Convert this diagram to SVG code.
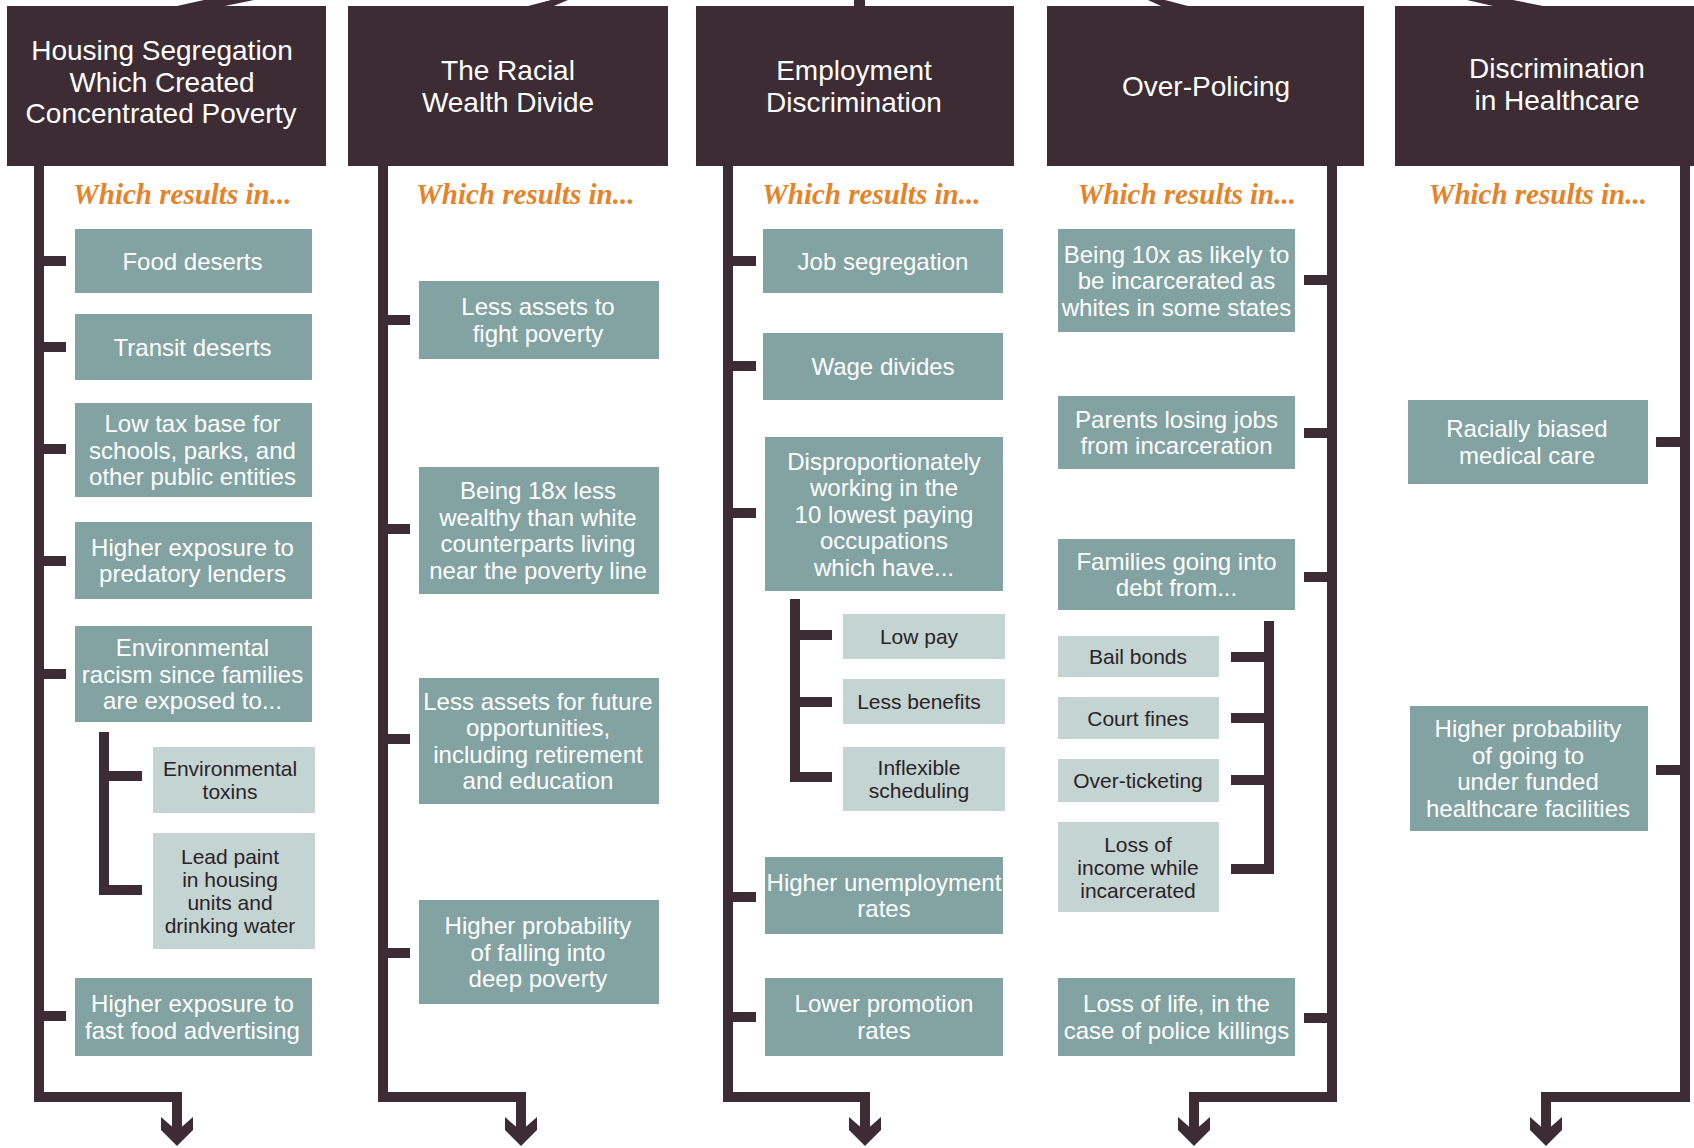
<svg xmlns="http://www.w3.org/2000/svg" xmlns:xlink="http://www.w3.org/1999/xlink" width="1694" height="1148" viewBox="0 0 1694 1148">
<style>
.hdr{fill:#3D2C33}
.box{fill:#82A3A2}
.sub{fill:#C3D4D3}
.ht{font-family:"Liberation Sans",Arial,sans-serif;font-size:28px;fill:#FFFFFF;text-anchor:middle}
.bt{font-family:"Liberation Sans",Arial,sans-serif;font-size:24px;fill:#FFFFFF;text-anchor:middle}
.st{font-family:"Liberation Sans",Arial,sans-serif;font-size:21px;fill:#2B2326;text-anchor:middle}
.wr{font-family:"Liberation Serif","Times New Roman",serif;font-size:29px;font-weight:bold;font-style:italic;fill:#E5832A}
.ln{fill:none;stroke:#3D2C33;stroke-width:10;stroke-linejoin:miter;stroke-linecap:butt}
.ah{fill:#3D2C33}
</style>
<defs>
<path id="arrow" d="M-16,-29 L0,-15 L16,-29 L16,-16 L0,0 L-16,-16 Z"/>
</defs>
<rect width="1694" height="1148" fill="#FFFFFF"/>

<g id="connectors">
  <polygon class="ah" points="177,6 225,6 254,0 204,0"/>
  <polygon class="ah" points="528,6 554,6 568,0 551,0"/>
  <rect class="ah" x="854" y="0" width="11" height="6"/>
  <polygon class="ah" points="1148,0 1165,0 1188,6 1161,6"/>
  <polygon class="ah" points="1467,0 1513,0 1543,6 1493,6"/>

  <path class="ln" d="M39 166 V1097 H177 V1132"/>
  <path class="ln" d="M39 261 H66 M39 347 H66 M39 449 H66 M39 561 H66 M39 674 H66 M39 1016 H66"/>
  <path class="ln" d="M104 732 V890 H142 M104 776 H142"/>
  <use href="#arrow" class="ah" x="177" y="1146"/>

  <path class="ln" d="M383 166 V1097 H521 V1132"/>
  <path class="ln" d="M383 320 H410 M383 529 H410 M383 739 H410 M383 953 H410"/>
  <use href="#arrow" class="ah" x="521" y="1146"/>

  <path class="ln" d="M728 166 V1097 H865 V1132"/>
  <path class="ln" d="M728 261 H756 M728 366 H756 M728 513 H756 M728 897 H756 M728 1017 H756"/>
  <path class="ln" d="M795 599 V777 H832 M795 635 H832 M795 702 H832"/>
  <use href="#arrow" class="ah" x="865" y="1146"/>

  <path class="ln" d="M1332 166 V1097 H1194 V1132"/>
  <path class="ln" d="M1332 280 H1304 M1332 433 H1304 M1332 577 H1304 M1332 1018 H1304"/>
  <path class="ln" d="M1269 621 V869 H1231 M1269 657 H1231 M1269 718 H1231 M1269 780 H1231"/>
  <use href="#arrow" class="ah" x="1194" y="1146"/>

  <path class="ln" d="M1685 166 V1097 H1546 V1132"/>
  <path class="ln" d="M1685 442 H1656 M1685 770 H1656"/>
  <use href="#arrow" class="ah" x="1546" y="1146"/>
</g>

<!-- Column 1 -->
<g id="h1">
  <rect class="hdr" x="7" y="6" width="319" height="160"/>
  <text class="ht" x="162" y="60">Housing Segregation</text>
  <text class="ht" x="162" y="92">Which Created</text>
  <text class="ht" x="161" y="123">Concentrated Poverty</text>
</g>
<g id="wr1"><text class="wr" x="73" y="204">Which results in...</text></g>
<g id="c1n1"><rect class="box" x="75" y="229" width="237" height="64"/>
  <text class="bt" x="192.5" y="269.6">Food deserts</text></g>
<g id="c1n2"><rect class="box" x="75" y="314" width="237" height="66"/>
  <text class="bt" x="192.5" y="355.6">Transit deserts</text></g>
<g id="c1n3"><rect class="box" x="75" y="403" width="237" height="94"/>
  <text class="bt" x="192.5" y="432.1">Low tax base for</text>
  <text class="bt" x="192.5" y="458.6">schools, parks, and</text>
  <text class="bt" x="192.5" y="485.1">other public entities</text></g>
<g id="c1n4"><rect class="box" x="75" y="522" width="237" height="77"/>
  <text class="bt" x="192.5" y="555.9">Higher exposure to</text>
  <text class="bt" x="192.5" y="582.4">predatory lenders</text></g>
<g id="c1n5"><rect class="box" x="75" y="626" width="237" height="96"/>
  <text class="bt" x="192.5" y="656.1">Environmental</text>
  <text class="bt" x="192.5" y="682.6">racism since families</text>
  <text class="bt" x="192.5" y="709.1">are exposed to...</text></g>
<g id="c1s1"><rect class="sub" x="153" y="747" width="162" height="66"/>
  <text class="st" x="230" y="776">Environmental</text>
  <text class="st" x="230" y="799">toxins</text></g>
<g id="c1s2"><rect class="sub" x="153" y="833" width="162" height="116"/>
  <text class="st" x="230" y="864">Lead paint</text>
  <text class="st" x="230" y="887">in housing</text>
  <text class="st" x="230" y="910">units and</text>
  <text class="st" x="230" y="933">drinking water</text></g>
<g id="c1n6"><rect class="box" x="75" y="978" width="237" height="78"/>
  <text class="bt" x="192.5" y="1012.4">Higher exposure to</text>
  <text class="bt" x="192.5" y="1038.9">fast food advertising</text></g>

<!-- Column 2 -->
<g id="h2">
  <rect class="hdr" x="348" y="6" width="320" height="160"/>
  <text class="ht" x="508" y="80">The Racial</text>
  <text class="ht" x="508" y="112">Wealth Divide</text>
</g>
<g id="wr2"><text class="wr" x="416" y="204">Which results in...</text></g>
<g id="c2n1"><rect class="box" x="419" y="281" width="240" height="78"/>
  <text class="bt" x="538" y="315.4">Less assets to</text>
  <text class="bt" x="538" y="341.9">fight poverty</text></g>
<g id="c2n2"><rect class="box" x="419" y="467" width="240" height="127"/>
  <text class="bt" x="538" y="499.4">Being 18x less</text>
  <text class="bt" x="538" y="525.9">wealthy than white</text>
  <text class="bt" x="538" y="552.4">counterparts living</text>
  <text class="bt" x="538" y="578.9">near the poverty line</text></g>
<g id="c2n3"><rect class="box" x="419" y="678" width="240" height="126"/>
  <text class="bt" x="538" y="709.9">Less assets for future</text>
  <text class="bt" x="538" y="736.4">opportunities,</text>
  <text class="bt" x="538" y="762.9">including retirement</text>
  <text class="bt" x="538" y="789.4">and education</text></g>
<g id="c2n4"><rect class="box" x="419" y="900" width="240" height="104"/>
  <text class="bt" x="538" y="934.1">Higher probability</text>
  <text class="bt" x="538" y="960.6">of falling into</text>
  <text class="bt" x="538" y="987.1">deep poverty</text></g>

<!-- Column 3 -->
<g id="h3">
  <rect class="hdr" x="696" y="6" width="318" height="160"/>
  <text class="ht" x="854" y="80">Employment</text>
  <text class="ht" x="854" y="112">Discrimination</text>
</g>
<g id="wr3"><text class="wr" x="762" y="204">Which results in...</text></g>
<g id="c3n1"><rect class="box" x="763" y="229" width="240" height="64"/>
  <text class="bt" x="883" y="269.6">Job segregation</text></g>
<g id="c3n2"><rect class="box" x="763" y="333" width="240" height="67"/>
  <text class="bt" x="883" y="375.1">Wage divides</text></g>
<g id="c3n3"><rect class="box" x="765" y="437" width="238" height="154"/>
  <text class="bt" x="884" y="469.6">Disproportionately</text>
  <text class="bt" x="884" y="496.1">working in the</text>
  <text class="bt" x="884" y="522.6">10 lowest paying</text>
  <text class="bt" x="884" y="549.1">occupations</text>
  <text class="bt" x="884" y="575.6">which have...</text></g>
<g id="c3s1"><rect class="sub" x="843" y="614" width="162" height="45"/>
  <text class="st" x="919" y="644">Low pay</text></g>
<g id="c3s2"><rect class="sub" x="843" y="679" width="162" height="45"/>
  <text class="st" x="919" y="709">Less benefits</text></g>
<g id="c3s3"><rect class="sub" x="843" y="747" width="162" height="64"/>
  <text class="st" x="919" y="775">Inflexible</text>
  <text class="st" x="919" y="798">scheduling</text></g>
<g id="c3n4"><rect class="box" x="765" y="857" width="238" height="77"/>
  <text class="bt" x="884" y="890.9">Higher unemployment</text>
  <text class="bt" x="884" y="917.4">rates</text></g>
<g id="c3n5"><rect class="box" x="765" y="978" width="238" height="78"/>
  <text class="bt" x="884" y="1012.4">Lower promotion</text>
  <text class="bt" x="884" y="1038.9">rates</text></g>

<!-- Column 4 -->
<g id="h4">
  <rect class="hdr" x="1047" y="6" width="317" height="160"/>
  <text class="ht" x="1206" y="96">Over-Policing</text>
</g>
<g id="wr4"><text class="wr" x="1296" y="204" text-anchor="end">Which results in...</text></g>
<g id="c4n1"><rect class="box" x="1058" y="229" width="237" height="103"/>
  <text class="bt" x="1176.5" y="262.6">Being 10x as likely to</text>
  <text class="bt" x="1176.5" y="289.1">be incarcerated as</text>
  <text class="bt" x="1176.5" y="315.6">whites in some states</text></g>
<g id="c4n2"><rect class="box" x="1058" y="396" width="237" height="73"/>
  <text class="bt" x="1176.5" y="427.9">Parents losing jobs</text>
  <text class="bt" x="1176.5" y="454.4">from incarceration</text></g>
<g id="c4n3"><rect class="box" x="1058" y="539" width="237" height="71"/>
  <text class="bt" x="1176.5" y="569.9">Families going into</text>
  <text class="bt" x="1176.5" y="596.4">debt from...</text></g>
<g id="c4s1"><rect class="sub" x="1058" y="636" width="161" height="41"/>
  <text class="st" x="1138" y="664">Bail bonds</text></g>
<g id="c4s2"><rect class="sub" x="1058" y="697" width="161" height="42"/>
  <text class="st" x="1138" y="725.5">Court fines</text></g>
<g id="c4s3"><rect class="sub" x="1058" y="759" width="161" height="43"/>
  <text class="st" x="1138" y="788">Over-ticketing</text></g>
<g id="c4s4"><rect class="sub" x="1058" y="822" width="161" height="90"/>
  <text class="st" x="1138" y="851.5">Loss of</text>
  <text class="st" x="1138" y="874.5">income while</text>
  <text class="st" x="1138" y="897.5">incarcerated</text></g>
<g id="c4n4"><rect class="box" x="1058" y="978" width="237" height="78"/>
  <text class="bt" x="1176.5" y="1012.4">Loss of life, in the</text>
  <text class="bt" x="1176.5" y="1038.9">case of police killings</text></g>

<!-- Column 5 -->
<g id="h5">
  <rect class="hdr" x="1395" y="6" width="300" height="160"/>
  <text class="ht" x="1557" y="78">Discrimination</text>
  <text class="ht" x="1557" y="110">in Healthcare</text>
</g>
<g id="wr5"><text class="wr" x="1647" y="204" text-anchor="end">Which results in...</text></g>
<g id="c5n1"><rect class="box" x="1408" y="400" width="240" height="84"/>
  <text class="bt" x="1527" y="437.4">Racially biased</text>
  <text class="bt" x="1527" y="463.9">medical care</text></g>
<g id="c5n2"><rect class="box" x="1410" y="706" width="238" height="125"/>
  <text class="bt" x="1528" y="737.4">Higher probability</text>
  <text class="bt" x="1528" y="763.9">of going to</text>
  <text class="bt" x="1528" y="790.4">under funded</text>
  <text class="bt" x="1528" y="816.9">healthcare facilities</text></g>
</svg>
